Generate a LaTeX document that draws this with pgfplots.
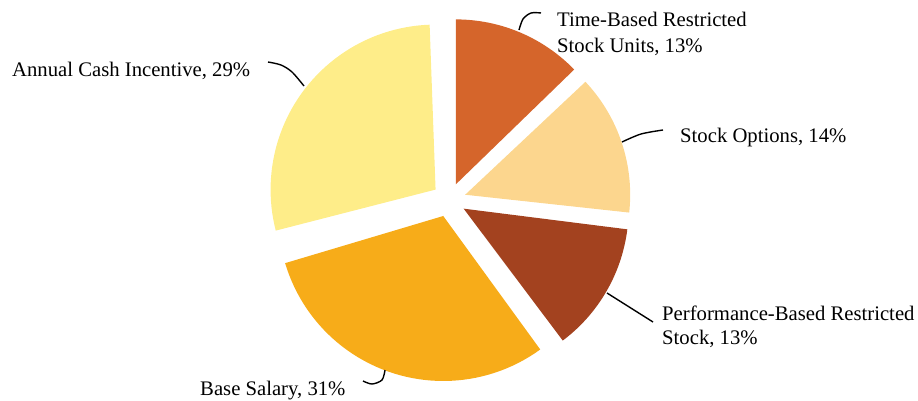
\documentclass[border=0pt]{standalone}
\usepackage{pgfplots}
\pgfplotsset{compat=1.18}
\usepackage{fontspec}
\setmainfont{Liberation Serif}

\definecolor{timersu}{RGB}{213,101,43}
\definecolor{options}{RGB}{252,214,142}
\definecolor{perfrs}{RGB}{163,66,31}
\definecolor{salary}{RGB}{247,172,25}
\definecolor{cash}{RGB}{254,237,137}

% centre 449,200 (pixels, y down), radius 165, explode 17
% #1 colour, #2 cumulative start (%), #3 share (%)
\newcommand{\pieslice}[3]{%
  \addplot[fill=#1, draw=none, samples at={-1,0,0.02,...,1}, variable=\t]
    ({449 + 17*cos(90-3.6*(#2+#3/2)) + (\t<0 ? 0 : 165*cos(90-3.6*(#2+\t*#3)))},
     {200 - 17*sin(90-3.6*(#2+#3/2)) - (\t<0 ? 0 : 165*sin(90-3.6*(#2+\t*#3)))});
}

\begin{document}
\begin{tikzpicture}[font=\fontsize{20.7bp}{24bp}\selectfont]
\begin{axis}[
    width=918bp, height=401bp,
    scale only axis,
    xmin=0, xmax=918, ymin=0, ymax=401,
    y dir=reverse,
    hide axis,
    clip=false,
  ]
  \pieslice{timersu}{0}{13}
  \pieslice{options}{13}{14}
  \pieslice{perfrs}{27}{13}
  \pieslice{salary}{40}{31}
  \pieslice{cash}{71}{29}

  % leader lines
  \addplot[black, line width=1.4pt, smooth] coordinates {(519,30) (523,19) (531,13) (541,13)};
  \addplot[black, line width=1.4pt, smooth] coordinates {(622,142) (641,134) (663,130)};
  \addplot[black, line width=1.4pt] coordinates {(607,293) (653,322)};
  \addplot[black, line width=1.4pt, smooth] coordinates {(385,370) (382,380) (372,384) (363,381)};
  \addplot[black, line width=1.4pt, smooth] coordinates {(268,62) (281,65) (292,72) (304,86)};

  \node[anchor=base west, inner sep=0pt] at (axis cs:557,27) {Time-Based Restricted};
  \node[anchor=base west, inner sep=0pt] at (axis cs:557,52) {Stock Units, 13\%};
  \node[anchor=base west, inner sep=0pt] at (axis cs:680,142) {Stock Options, 14\%};
  \node[anchor=base west, inner sep=0pt] at (axis cs:662,320) {Performance-Based Restricted};
  \node[anchor=base west, inner sep=0pt] at (axis cs:662,344) {Stock, 13\%};
  \node[anchor=base west, inner sep=0pt] at (axis cs:200,395) {Base Salary, 31\%};
  \node[anchor=base west, inner sep=0pt] at (axis cs:12,76) {Annual Cash Incentive, 29\%};
\end{axis}
\pgfresetboundingbox
\path (current axis.south west) rectangle (current axis.north east);
\end{tikzpicture}
\end{document}
